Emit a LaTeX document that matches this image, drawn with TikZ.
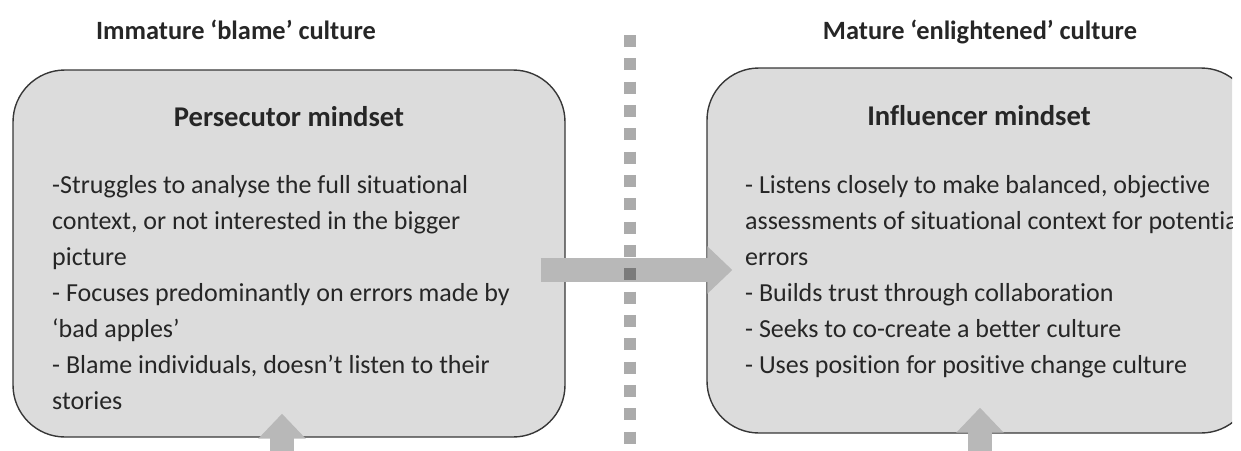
\documentclass[tikz,border=0pt]{standalone}
\usepackage{fontspec}
\setmainfont{Carlito}[RawFeature={-liga;-clig;-calt;-dlig}]
\usetikzlibrary{arrows.meta}
\definecolor{boxfill}{RGB}{220,220,220}
\definecolor{boxline}{RGB}{55,55,55}
\definecolor{arrowgray}{RGB}{184,184,184}
\definecolor{textgray}{RGB}{38,38,38}
\begin{document}
\begin{tikzpicture}[x=1pt,y=-1pt,
  panel/.style={draw=boxline, line width=1.4pt, fill=boxfill, rounded corners=52pt,
    rectangle, inner sep=0pt},
  culture/.style={font=\fontsize{26.4}{32}\selectfont\bfseries, text=textgray, anchor=base, inner sep=0pt},
  mindset/.style={font=\fontsize{28.6}{32}\selectfont\bfseries, text=textgray, anchor=base, inner sep=0pt},
  points/.style={font=\fontsize{26}{36}\selectfont, text=textgray, align=left, anchor=north west, inner sep=0pt},
  bigarrow/.style={draw=arrowgray, line width=24pt, -{Triangle[width=46pt,length=25pt]}},
  divider/.style={draw=black, draw opacity=0.33, line width=12pt, dash pattern=on 12pt off 11.33pt}
]
\useasboundingbox (0,0) rectangle (1241,450);

% headings above the two panels
\node[culture] (ltitle) at (236,39) {Immature ‘blame’ culture};
\node[culture] (rtitle) at (980,39) {Mature ‘enlightened’ culture};

% left panel
\node[panel, minimum width=552pt, minimum height=367pt] (lbox) at (289,253.5) {};
\node[mindset] (lhead) at (289,126) {Persecutor mindset};
\node[points] (ltext) at (52,175) {-Struggles to analyse the full situational\\
context, or not interested in the bigger\\
picture\\
- Focuses predominantly on errors made by\\
‘bad apples’\\
- Blame individuals, doesn’t listen to their\\
stories};

% right panel, cut at the right edge of the page
\begin{scope}
  \clip (0,0) rectangle (1232,450);
  \node[panel, minimum width=546pt, minimum height=365pt] (rbox) at (980,250.5) {};
  \node[mindset] (rhead) at (979,125) {Influencer mindset};
  \node[points] (rtext) at (745,175) {- Listens closely to make balanced, objective\\
assessments of situational context for potential\\
errors\\
- Builds trust through collaboration\\
- Seeks to co-create a better culture\\
- Uses position for positive change culture};
\end{scope}

% arrows
\draw[bigarrow] ([shift={(-25,16.5)}]lbox.east) -- ([shift={(26,19.5)}]rbox.west);
\coordinate (lfoot) at (282,451);
\coordinate (rfoot) at (980,451);
\draw[bigarrow] (lfoot) -- ([shift={(-7,-24)}]lbox.south);
\draw[bigarrow] (rfoot) -- ([shift={(0,-26)}]rbox.south);

% dotted divider between the two cultures
\coordinate (dtop) at (630,35);
\coordinate (dbot) at (630,446);
\draw[divider] (dtop) -- (dbot);
\end{tikzpicture}
\end{document}
